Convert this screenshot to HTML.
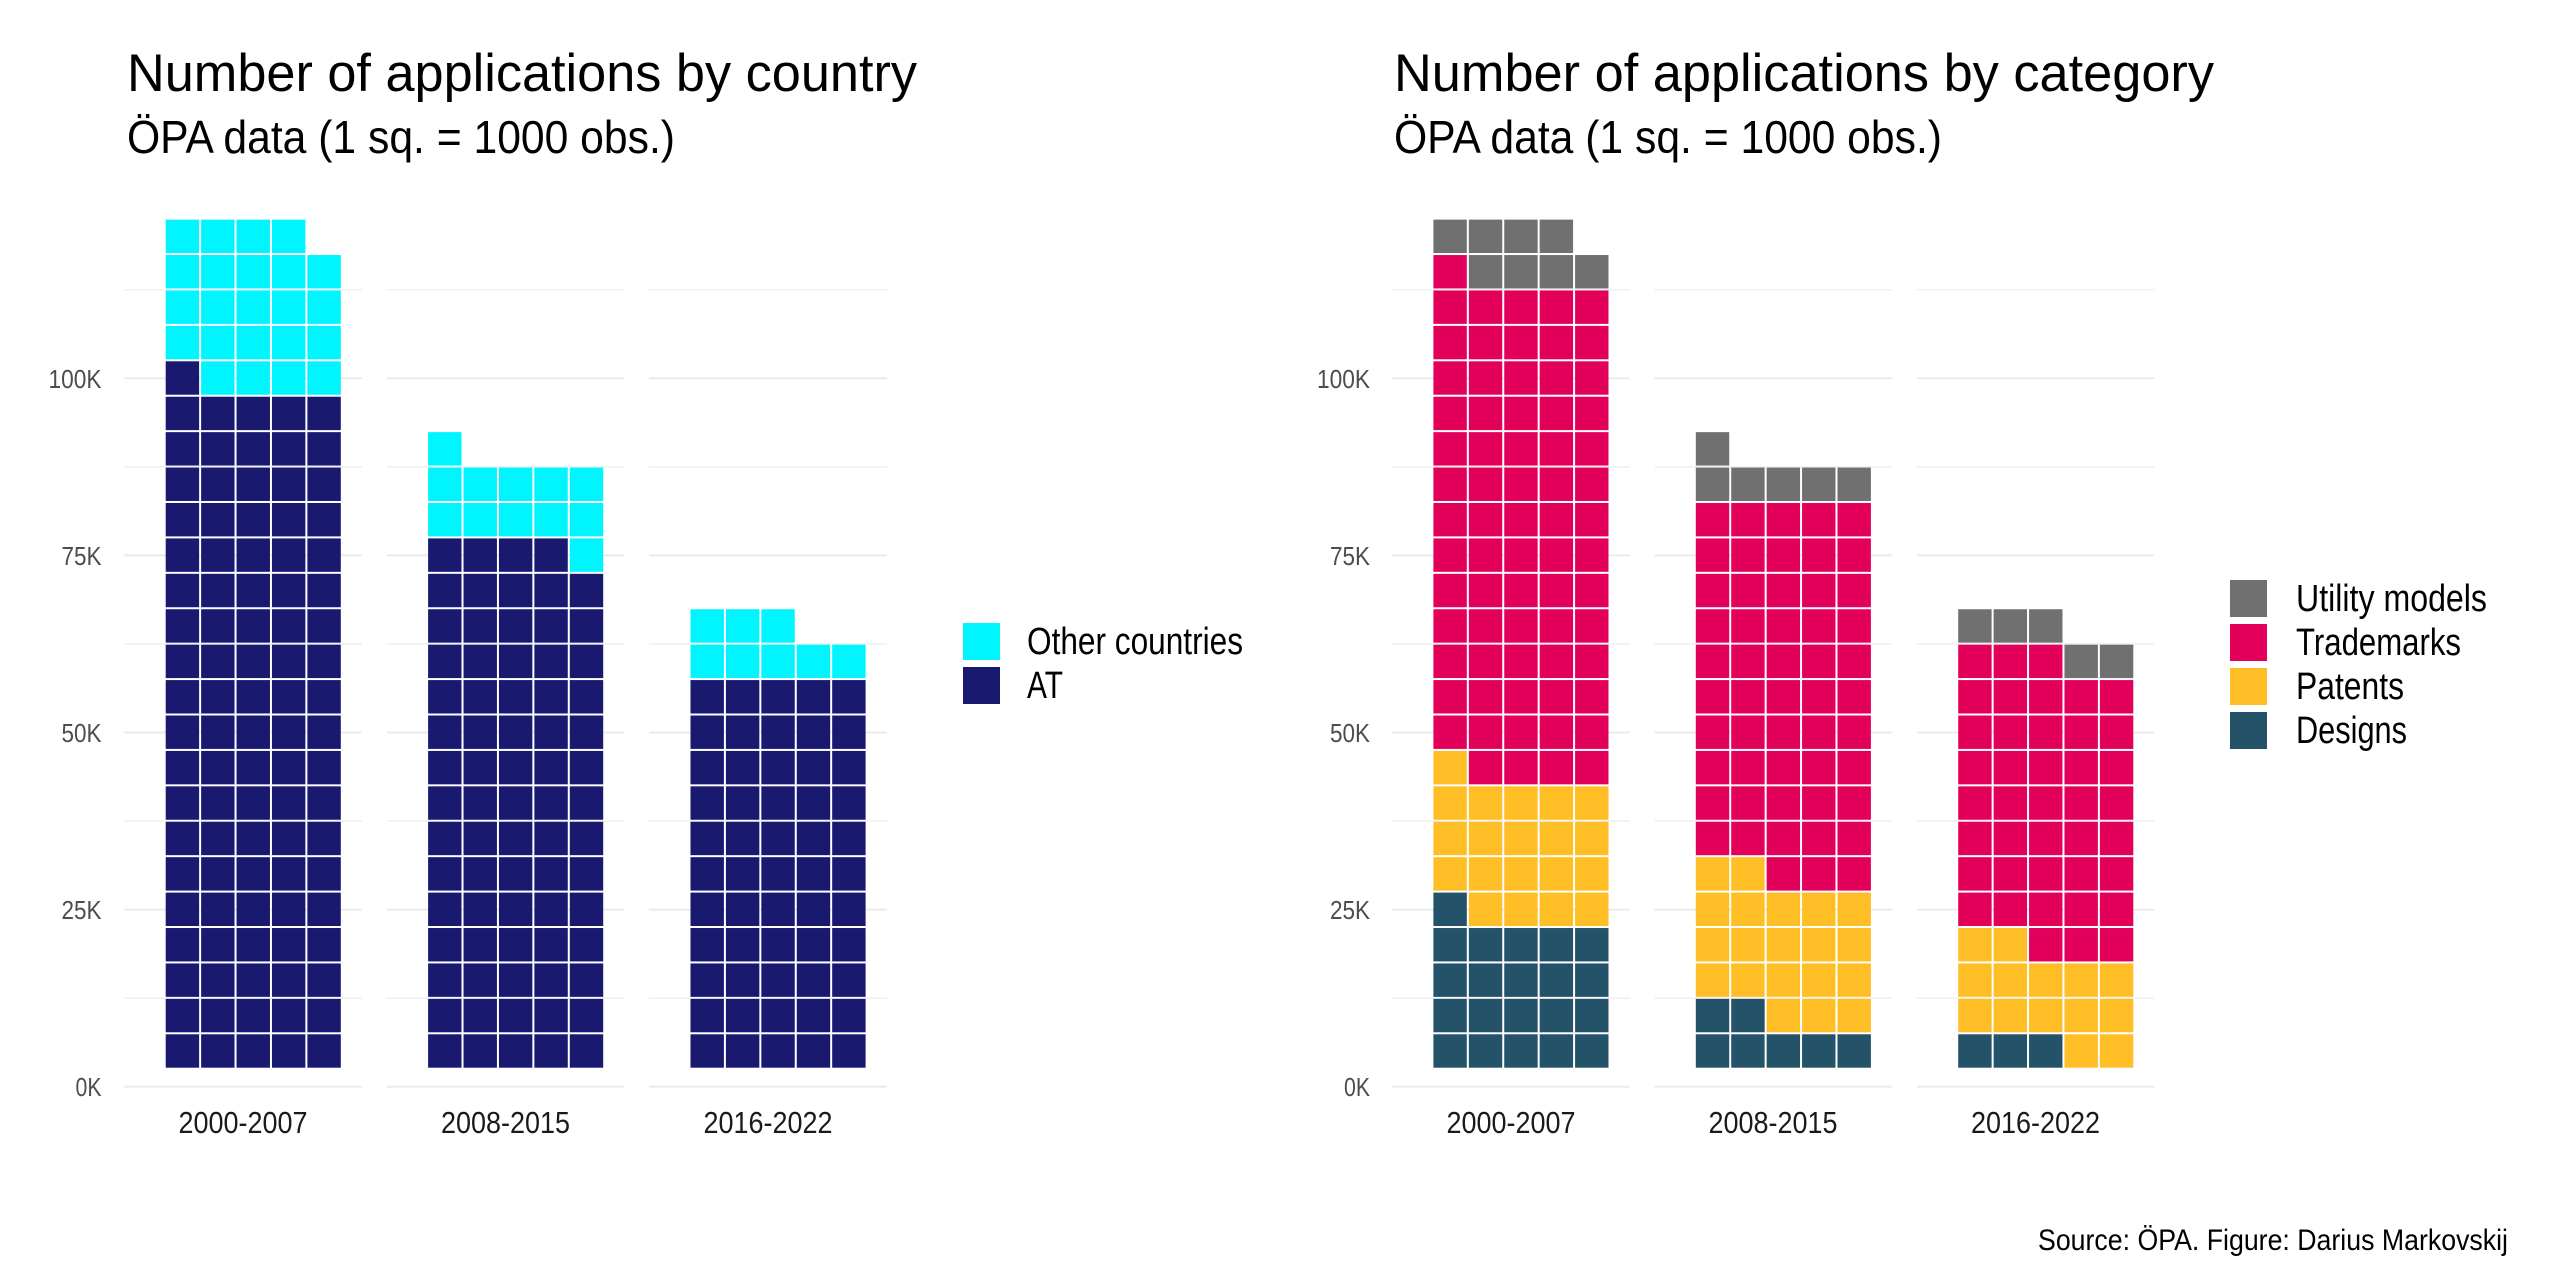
<!DOCTYPE html>
<html><head><meta charset="utf-8">
<style>
html,body{margin:0;padding:0;background:#fff;}
svg{display:block;font-family:"Liberation Sans Narrow","Liberation Sans",sans-serif;}
</style></head>
<body>
<svg id="s" width="2560" height="1280" viewBox="0 0 2560 1280" xmlns="http://www.w3.org/2000/svg">
<rect width="2560" height="1280" fill="#fff"/>
<g id="grid"></g>
<g id="sq"></g>
<text x="127" y="91" font-size="53" fill="#000" textLength="790" lengthAdjust="spacingAndGlyphs">Number of applications by country</text>
<text x="127" y="153" font-size="46" fill="#000" textLength="548" lengthAdjust="spacingAndGlyphs">ÖPA data (1 sq. = 1000 obs.)</text>
<text x="1394" y="91" font-size="53" fill="#000" textLength="820" lengthAdjust="spacingAndGlyphs">Number of applications by category</text>
<text x="1394" y="153" font-size="46" fill="#000" textLength="548" lengthAdjust="spacingAndGlyphs">ÖPA data (1 sq. = 1000 obs.)</text>
<g font-size="26" fill="#4d4d4d" text-anchor="end" id="ylab"></g>
<g font-size="31" fill="#1a1a1a" text-anchor="middle">
<text x="243" y="1133" textLength="129" lengthAdjust="spacingAndGlyphs">2000-2007</text>
<text x="505.5" y="1133" textLength="129" lengthAdjust="spacingAndGlyphs">2008-2015</text>
<text x="768" y="1133" textLength="129" lengthAdjust="spacingAndGlyphs">2016-2022</text>
<text x="1511" y="1133" textLength="129" lengthAdjust="spacingAndGlyphs">2000-2007</text>
<text x="1773" y="1133" textLength="129" lengthAdjust="spacingAndGlyphs">2008-2015</text>
<text x="2035.5" y="1133" textLength="129" lengthAdjust="spacingAndGlyphs">2016-2022</text>
</g>
<rect x="963" y="623" width="37" height="37" fill="#00F5FF"/>
<rect x="963" y="667" width="37" height="37" fill="#191970"/>
<g font-size="38" fill="#000">
<text x="1027" y="654" textLength="216" lengthAdjust="spacingAndGlyphs">Other countries</text>
<text x="1027" y="698" textLength="36" lengthAdjust="spacingAndGlyphs">AT</text>
</g>
<rect x="2230" y="580" width="37" height="37" fill="#707070"/>
<rect x="2230" y="624" width="37" height="37" fill="#E3005A"/>
<rect x="2230" y="668" width="37" height="37" fill="#FFBE25"/>
<rect x="2230" y="712" width="37" height="37" fill="#245369"/>
<g font-size="38" fill="#000">
<text x="2296" y="611" textLength="191" lengthAdjust="spacingAndGlyphs">Utility models</text>
<text x="2296" y="655" textLength="165" lengthAdjust="spacingAndGlyphs">Trademarks</text>
<text x="2296" y="699" textLength="108" lengthAdjust="spacingAndGlyphs">Patents</text>
<text x="2296" y="743" textLength="111" lengthAdjust="spacingAndGlyphs">Designs</text>
</g>
<text x="2508" y="1250" font-size="30" fill="#000" text-anchor="end" textLength="470" lengthAdjust="spacingAndGlyphs">Source: ÖPA. Figure: Darius Markovskij</text>
</svg>
<script>
(function(){
var NS="http://www.w3.org/2000/svg";
var grid=document.getElementById('grid'),sq=document.getElementById('sq'),yl=document.getElementById('ylab');
var y0=1086.7,per25=177.1,pitch=35.42,bottom=1068.7,pw=237.7;
function el(t,a,p){var e=document.createElementNS(NS,t);for(var k in a)e.setAttribute(k,a[k]);p.appendChild(e);return e;}
var panels=[124.3,386.7,649.1,1392,1654.4,1916.8];
panels.forEach(function(px){
  for(var k=0;k<5;k++){
    var y=y0-k*per25;
    el('line',{x1:px,x2:px+pw,y1:y,y2:y,stroke:'#ebebeb','stroke-width':2},grid);
    var ym=y0-(k+0.5)*per25;
    el('line',{x1:px,x2:px+pw,y1:ym,y2:ym,stroke:'#f0f0f0','stroke-width':1.6},grid);
  }
});
[101.5,1370].forEach(function(x){
  var labs=['0K','25K','50K','75K','100K'],w=[26,40,40,40,53];
  for(var k=0;k<5;k++){var t=el('text',{x:x,y:y0-k*per25+9.5,textLength:w[k],lengthAdjust:'spacingAndGlyphs'},yl);t.textContent=labs[k];}
});
var C={at:'#191970',oc:'#00F5FF',u:'#707070',t:'#E3005A',p:'#FFBE25',d:'#245369'};
var data=[
 [[C.at,96],[C.oc,23]],
 [[C.at,74],[C.oc,12]],
 [[C.at,55],[C.oc,8]],
 [[C.d,21],[C.p,20],[C.t,70],[C.u,8]],
 [[C.d,7],[C.p,20],[C.t,53],[C.u,6]],
 [[C.d,3],[C.p,14],[C.t,41],[C.u,5]]
];
data.forEach(function(d,i){
  var cs=panels[i]+40.4,n=0;
  d.forEach(function(s){
    for(var j=0;j<s[1];j++){
      var r=Math.floor(n/5),c=n%5;
      el('rect',{x:cs+c*pitch+1,y:bottom-(r+1)*pitch+1,width:pitch-2,height:pitch-2,fill:s[0]},sq);
      n++;
    }
  });
});
})();
</script>
</body></html>
